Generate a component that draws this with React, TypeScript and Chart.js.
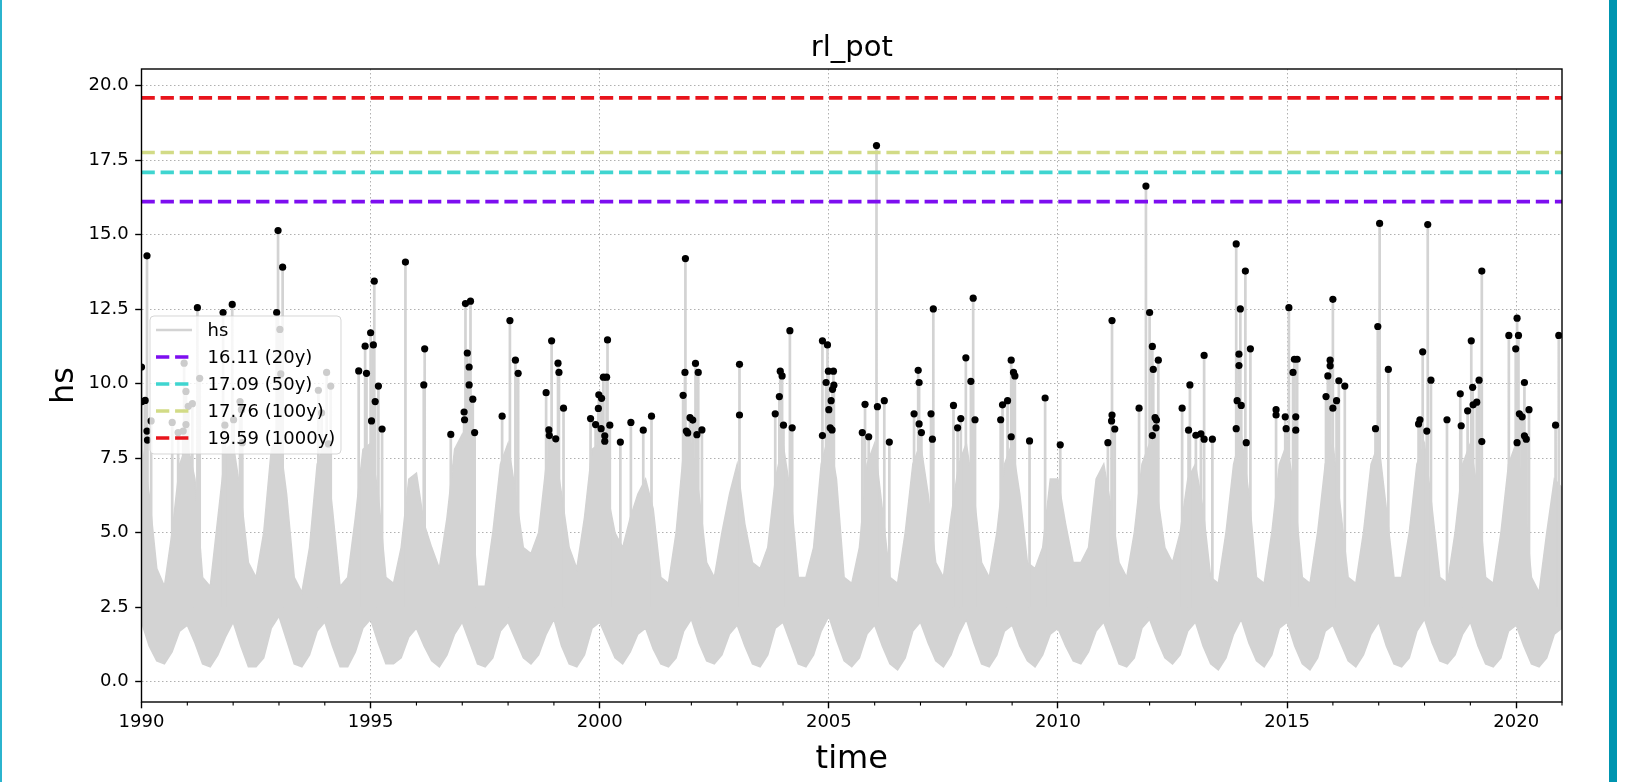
import { useEffect, useRef } from 'react';
import { Chart, registerables } from 'chart.js';

Chart.register(...registerables);

// ---------- axis / tick data ----------
const xMinYear = 1990;
const xMaxYear = 2021;
const yMinValue = -0.68;
const yMaxValue = 20.56;
const xTickYears = [1990, 1995, 2000, 2005, 2010, 2015, 2020];
const xMinorYears = [1991, 1992, 1993, 1994, 1996, 1997, 1998, 1999, 2001, 2002, 2003, 2004, 2006, 2007, 2008, 2009, 2011, 2012, 2013, 2014, 2016, 2017, 2018, 2019, 2021];
const yTickValues = [0, 2.5, 5, 7.5, 10, 12.5, 15, 17.5, 20];

// ---------- return levels ----------
const thresholdValues = [16.11, 17.09, 17.76, 19.59];
const thresholdLabels = ['16.11 (20y)', '17.09 (50y)', '17.76 (100y)', '19.59 (1000y)'];
const thresholdColors = ['#7d0ef0', '#3fd5d0', '#d2db86', '#e8141c'];

// ---------- hs series envelope (6 samples per year, 1990.0 .. 2021.0) ----------
const envStartYear = 1990;
const envSamplesPerYear = 6;
const hsUpper = [
  8.0, 6.3, 3.8, 3.2, 5.0, 7.3, // 1990
  8.0, 6.8, 3.5, 3.2, 5.5, 7.8, // 1991
  8.0, 6.3, 4.0, 3.5, 5.0, 7.8, // 1992
  8.3, 6.3, 3.5, 3.0, 4.5, 7.3, // 1993
  8.0, 5.8, 3.2, 3.5, 5.5, 7.8, // 1994
  8.0, 6.3, 3.5, 3.3, 4.5, 6.8, // 1995
  7.0, 5.3, 4.5, 3.8, 5.5, 7.8, // 1996
  8.3, 6.8, 3.2, 3.2, 5.0, 7.3, // 1997
  8.0, 6.3, 4.5, 4.3, 5.0, 7.3, // 1998
  8.0, 6.3, 4.5, 3.8, 5.5, 7.8, // 1999
  8.0, 6.3, 5.0, 4.5, 5.5, 6.3, // 2000
  6.8, 5.8, 3.5, 3.3, 5.0, 7.8, // 2001
  8.0, 6.3, 4.0, 3.5, 5.0, 6.3, // 2002
  7.3, 5.3, 4.0, 3.8, 4.5, 6.8, // 2003
  8.0, 6.3, 3.5, 3.5, 4.5, 7.3, // 2004
  8.3, 6.8, 3.5, 3.3, 4.5, 7.3, // 2005
  8.0, 5.8, 3.5, 3.3, 5.0, 7.3, // 2006
  8.0, 6.3, 4.0, 3.5, 5.5, 7.3, // 2007
  8.0, 6.3, 4.0, 3.5, 5.0, 7.3, // 2008
  8.0, 6.3, 4.0, 3.8, 4.5, 6.8, // 2009
  6.8, 5.3, 4.0, 4.0, 4.5, 6.8, // 2010
  7.3, 5.8, 4.0, 3.5, 5.0, 7.3, // 2011
  8.0, 6.3, 4.5, 4.0, 5.0, 6.8, // 2012
  7.3, 5.8, 3.5, 3.3, 5.0, 7.3, // 2013
  8.3, 6.3, 3.5, 3.3, 5.0, 7.3, // 2014
  8.0, 6.3, 3.5, 3.3, 5.0, 7.3, // 2015
  8.0, 5.8, 3.5, 3.3, 5.0, 7.3, // 2016
  8.0, 5.8, 3.5, 3.5, 5.0, 7.3, // 2017
  8.0, 5.8, 3.5, 3.3, 5.0, 7.3, // 2018
  8.0, 6.3, 3.5, 3.3, 5.0, 7.3, // 2019
  8.0, 6.3, 3.5, 3.0, 5.0, 6.8, // 2020
  6.5, // 2021.0
];
const hsLower = [
  2.0, 1.2, 0.7, 0.6, 1.0, 1.7, // 1990
  1.9, 1.3, 0.6, 0.5, 0.9, 1.5, // 1991
  2.0, 1.2, 0.5, 0.5, 0.8, 1.8, // 1992
  2.2, 1.4, 0.6, 0.5, 0.9, 1.7, // 1993
  2.0, 1.2, 0.5, 0.5, 1.0, 1.8, // 1994
  2.1, 1.3, 0.6, 0.6, 0.8, 1.5, // 1995
  1.8, 1.2, 0.7, 0.5, 0.9, 1.6, // 1996
  2.0, 1.3, 0.6, 0.5, 0.8, 1.7, // 1997
  2.0, 1.4, 0.8, 0.6, 0.9, 1.6, // 1998
  2.1, 1.2, 0.6, 0.5, 0.9, 1.8, // 1999
  2.0, 1.4, 0.8, 0.6, 1.0, 1.6, // 2000
  1.8, 1.1, 0.6, 0.5, 0.8, 1.7, // 2001
  2.1, 1.3, 0.7, 0.6, 0.9, 1.6, // 2002
  1.9, 1.2, 0.6, 0.5, 0.9, 1.8, // 2003
  2.0, 1.3, 0.6, 0.5, 0.9, 1.7, // 2004
  2.2, 1.4, 0.7, 0.5, 0.8, 1.6, // 2005
  1.9, 1.2, 0.6, 0.4, 0.8, 1.7, // 2006
  2.0, 1.3, 0.7, 0.5, 0.9, 1.6, // 2007
  2.1, 1.3, 0.6, 0.5, 0.9, 1.7, // 2008
  1.9, 1.2, 0.7, 0.5, 0.9, 1.6, // 2009
  1.8, 1.2, 0.7, 0.6, 1.0, 1.7, // 2010
  2.0, 1.3, 0.6, 0.5, 0.8, 1.8, // 2011
  2.1, 1.4, 0.8, 0.6, 0.9, 1.7, // 2012
  2.0, 1.2, 0.6, 0.4, 0.8, 1.6, // 2013
  2.1, 1.3, 0.7, 0.5, 0.9, 1.8, // 2014
  2.0, 1.2, 0.6, 0.4, 0.8, 1.7, // 2015
  1.9, 1.3, 0.7, 0.5, 0.9, 1.6, // 2016
  2.0, 1.2, 0.6, 0.5, 0.8, 1.7, // 2017
  2.1, 1.3, 0.7, 0.6, 0.9, 1.6, // 2018
  2.0, 1.2, 0.6, 0.5, 0.8, 1.7, // 2019
  1.9, 1.2, 0.6, 0.5, 0.8, 1.6, // 2020
  1.8, // 2021.0
];

// ---------- peaks over threshold (decimal year, hs) ----------
const peakTimes = [
  1990.00, 1990.01, 1990.08, 1990.12, 1990.12, 1990.13, 1990.21, 1990.67, 1990.80, 1990.91,
  1990.93, 1990.97, 1990.97, 1991.02, 1991.11, 1991.22, 1991.27, 1991.78, 1991.82, 1991.98,
  1992.01, 1992.15, 1992.18, 1992.20, 1992.95, 1992.98, 1993.02, 1993.04, 1993.08, 1993.86,
  1993.93, 1994.04, 1994.08, 1994.13, 1994.74, 1994.88, 1994.91, 1995.00, 1995.02, 1995.06,
  1995.08, 1995.10, 1995.17, 1995.25, 1995.76, 1996.16, 1996.18, 1996.75, 1997.04, 1997.05,
  1997.07, 1997.11, 1997.15, 1997.15, 1997.18, 1997.23, 1997.27, 1997.87, 1998.04, 1998.16,
  1998.22, 1998.83, 1998.89, 1998.90, 1998.95, 1999.04, 1999.09, 1999.11, 1999.21, 1999.80,
  1999.91, 1999.97, 1999.98, 2000.03, 2000.04, 2000.08, 2000.11, 2000.11, 2000.15, 2000.17,
  2000.22, 2000.45, 2000.68, 2000.95, 2001.13, 2001.82, 2001.86, 2001.87, 2001.89, 2001.92,
  2001.97, 2002.03, 2002.09, 2002.12, 2002.15, 2002.23, 2003.05, 2003.05, 2003.83, 2003.92,
  2003.94, 2003.98, 2004.01, 2004.15, 2004.20, 2004.86, 2004.86, 2004.94, 2004.97, 2004.99,
  2005.00, 2005.03, 2005.05, 2005.07, 2005.08, 2005.10, 2005.11, 2005.73, 2005.79, 2005.87,
  2006.04, 2006.06, 2006.21, 2006.32, 2006.86, 2006.95, 2006.97, 2006.97, 2007.02, 2007.23,
  2007.26, 2007.28, 2007.72, 2007.81, 2007.88, 2007.99, 2008.10, 2008.15, 2008.19, 2008.75,
  2008.79, 2008.90, 2008.98, 2008.98, 2009.03, 2009.06, 2009.38, 2009.72, 2010.05, 2011.09,
  2011.17, 2011.18, 2011.18, 2011.24, 2011.77, 2011.92, 2012.00, 2012.06, 2012.06, 2012.08,
  2012.12, 2012.14, 2012.15, 2012.19, 2012.71, 2012.85, 2012.88, 2013.01, 2013.12, 2013.19,
  2013.19, 2013.37, 2013.89, 2013.89, 2013.91, 2013.95, 2013.95, 2013.98, 2014.00, 2014.09,
  2014.11, 2014.20, 2014.76, 2014.76, 2014.96, 2014.98, 2015.04, 2015.13, 2015.16, 2015.19,
  2015.19, 2015.22, 2015.85, 2015.89, 2015.94, 2015.94, 2016.00, 2016.00, 2016.08, 2016.13,
  2016.26, 2016.93, 2016.98, 2017.02, 2017.21, 2017.87, 2017.90, 2017.96, 2018.05, 2018.07,
  2018.14, 2018.49, 2018.78, 2018.80, 2018.94, 2019.02, 2019.05, 2019.06, 2019.14, 2019.19,
  2019.25, 2019.25, 2019.84, 2019.99, 2020.02, 2020.02, 2020.05, 2020.07, 2020.13, 2020.18,
  2020.18, 2020.22, 2020.28, 2020.86, 2020.93,
];
const peakValues = [
  10.56, 9.40, 9.44, 14.29, 8.41, 8.11, 8.75, 8.70, 8.36, 8.41,
  10.69, 9.74, 8.63, 9.24, 9.33, 12.55, 10.18, 12.39, 8.61, 12.66,
  8.79, 9.40, 9.13, 8.02, 12.39, 15.14, 11.82, 10.33, 13.91, 9.78,
  9.02, 10.38, 7.98, 9.92, 10.43, 11.26, 10.35, 11.71, 8.75, 11.30,
  13.44, 9.40, 9.92, 8.48, 14.08, 9.96, 11.17, 8.30, 9.05, 8.79,
  12.69, 11.03, 10.56, 9.96, 12.77, 9.48, 8.36, 8.91, 12.12, 10.79,
  10.35, 9.70, 8.45, 8.26, 11.44, 8.15, 10.69, 10.38, 9.18, 8.83,
  8.63, 9.17, 9.63, 8.49, 9.51, 10.22, 8.25, 8.07, 10.22, 11.47,
  8.61, 8.04, 8.70, 8.44, 8.91, 9.61, 10.38, 14.20, 8.41, 8.35,
  8.86, 8.78, 10.68, 8.29, 10.38, 8.45, 10.65, 8.95, 8.99, 9.57,
  10.42, 10.26, 8.61, 11.78, 8.52, 11.44, 8.26, 10.04, 11.30, 10.42,
  9.13, 8.52, 9.43, 8.45, 9.81, 10.42, 9.95, 8.36, 9.31, 8.22,
  17.99, 9.23, 9.43, 8.04, 8.99, 10.45, 10.04, 8.65, 8.36, 8.99,
  8.14, 12.51, 9.27, 8.52, 8.83, 10.87, 10.08, 12.87, 8.79, 8.79,
  9.29, 9.43, 10.79, 8.22, 10.38, 10.26, 8.08, 9.52, 7.95, 8.02,
  8.75, 12.12, 8.95, 8.48, 9.18, 16.63, 12.39, 11.25, 8.26, 10.48,
  8.86, 8.52, 8.78, 10.79, 9.18, 8.44, 9.96, 8.27, 8.32, 10.95,
  8.14, 8.14, 14.69, 8.49, 9.43, 10.99, 10.61, 12.51, 9.27, 13.78,
  8.02, 11.17, 9.13, 8.95, 8.89, 8.49, 12.55, 10.38, 10.82, 8.89,
  8.44, 10.82, 9.57, 10.26, 10.79, 10.60, 12.83, 9.18, 9.43, 10.10,
  9.92, 8.49, 11.92, 15.38, 10.48, 8.65, 8.79, 11.07, 8.41, 15.34,
  10.12, 8.79, 9.66, 8.59, 9.09, 11.44, 9.88, 9.29, 9.38, 10.12,
  13.78, 8.06, 11.62, 11.17, 12.20, 8.02, 11.62, 8.99, 8.89, 10.04,
  8.25, 8.14, 9.13, 8.61, 11.62,
];

const hsColor = '#d3d3d3';
const stemBase = 2.5;
const FONT = '"DejaVu Sans", sans-serif';
const DASH = [13.3, 5.8];

const minorTicksAndFrame = {
  id: 'minorTicksAndFrame',
  afterDatasetsDraw(chart: any) {
    const { ctx, chartArea } = chart;
    const xs = chart.scales.x;
    ctx.save();
    ctx.strokeStyle = '#000';
    ctx.lineWidth = 1.1;
    ctx.setLineDash([]);
    for (const yr of xMinorYears) {
      const px = xs.getPixelForValue(yr);
      ctx.beginPath();
      ctx.moveTo(px, chartArea.bottom);
      ctx.lineTo(px, chartArea.bottom + 3.6);
      ctx.stroke();
    }
    ctx.lineWidth = 1.4;
    ctx.strokeRect(chartArea.left, chartArea.top, chartArea.right - chartArea.left, chartArea.bottom - chartArea.top);
    ctx.restore();
  },
};

const mplLegend = {
  id: 'mplLegend',
  afterDraw(chart: any) {
    const { ctx, chartArea } = chart;
    const items = [
      { label: 'hs', color: hsColor, dash: [] as number[], width: 2.7 },
      ...thresholdLabels.map((l, i) => ({ label: l, color: thresholdColors[i], dash: DASH, width: 3.6 })),
    ];
    const x0 = chartArea.left + 8.5;
    const y0 = 316;
    const w = 191;
    const h = 138;
    const r = 4;
    ctx.save();
    ctx.beginPath();
    ctx.moveTo(x0 + r, y0);
    ctx.lineTo(x0 + w - r, y0);
    ctx.quadraticCurveTo(x0 + w, y0, x0 + w, y0 + r);
    ctx.lineTo(x0 + w, y0 + h - r);
    ctx.quadraticCurveTo(x0 + w, y0 + h, x0 + w - r, y0 + h);
    ctx.lineTo(x0 + r, y0 + h);
    ctx.quadraticCurveTo(x0, y0 + h, x0, y0 + h - r);
    ctx.lineTo(x0, y0 + r);
    ctx.quadraticCurveTo(x0, y0, x0 + r, y0);
    ctx.closePath();
    ctx.fillStyle = 'rgba(255,255,255,0.8)';
    ctx.fill();
    ctx.strokeStyle = 'rgba(204,204,204,0.8)';
    ctx.lineWidth = 1;
    ctx.stroke();
    items.forEach((it, i) => {
      const y = y0 + 14 + i * 27;
      ctx.beginPath();
      ctx.setLineDash(it.dash);
      ctx.strokeStyle = it.color;
      ctx.lineWidth = it.width;
      ctx.moveTo(x0 + 6, y);
      ctx.lineTo(x0 + 42, y);
      ctx.stroke();
      ctx.setLineDash([]);
      ctx.fillStyle = '#000';
      ctx.font = '18px ' + FONT;
      ctx.textBaseline = 'middle';
      ctx.textAlign = 'left';
      ctx.fillText(it.label, x0 + 57.5, y + 1);
    });
    ctx.restore();
  },
};

export default function App() {
  const canvasRef = useRef<HTMLCanvasElement>(null);

  useEffect(() => {
    const canvas = canvasRef.current;
    if (!canvas) return;

    const envTimes = hsUpper.map((_, i) => envStartYear + i / envSamplesPerYear);
    const upperData = hsUpper.map((v, i) => ({ x: envTimes[i], y: v }));
    const lowerData = hsLower.map((v, i) => ({ x: envTimes[i], y: v }));
    const stemData: any[] = [];
    peakTimes.forEach((t, i) => {
      stemData.push({ x: t, y: stemBase }, { x: t, y: peakValues[i] }, { x: t, y: null });
    });
    const dotData = peakTimes.map((t, i) => ({ x: t, y: peakValues[i] }));

    const datasets: any[] = [
      {
        label: 'peaks',
        data: dotData,
        showLine: false,
        pointRadius: 3.6,
        pointBorderWidth: 0,
        pointBackgroundColor: '#000',
        borderColor: '#000',
        order: 0,
      },
      ...thresholdValues.map((v, i) => ({
        label: thresholdLabels[i],
        data: [{ x: xMinYear, y: v }, { x: xMaxYear, y: v }],
        borderColor: thresholdColors[i],
        borderWidth: 3.6,
        borderDash: DASH,
        pointRadius: 0,
        order: 1,
      })),
      {
        label: 'hs stems',
        data: stemData,
        borderColor: hsColor,
        borderWidth: 2.7,
        pointRadius: 0,
        spanGaps: false,
        order: 2,
      },
      {
        label: 'hs',
        data: upperData,
        borderColor: hsColor,
        backgroundColor: hsColor,
        borderWidth: 1.5,
        pointRadius: 0,
        tension: 0,
        fill: '+1',
        order: 3,
      },
      {
        label: 'hs low',
        data: lowerData,
        borderColor: hsColor,
        borderWidth: 1.5,
        pointRadius: 0,
        tension: 0,
        fill: false,
        order: 4,
      },
    ];

    const chart = new Chart(canvas, {
      type: 'line',
      data: { datasets },
      options: {
        animation: false,
        responsive: false,
        maintainAspectRatio: false,
        devicePixelRatio: 1,
        events: [],
        layout: { padding: { left: 0, right: 67, top: 0, bottom: 0 } },
        plugins: {
          legend: { display: false },
          tooltip: { enabled: false },
          title: {
            display: true,
            text: 'rl_pot',
            fullSize: false,
            color: '#000',
            font: { family: FONT, size: 29, weight: 'normal', lineHeight: 1.2 },
            padding: { top: 31, bottom: 3.2 },
          },
        },
        scales: {
          x: {
            type: 'linear',
            min: xMinYear,
            max: xMaxYear,
            afterBuildTicks: (s: any) => {
              s.ticks = xTickYears.map((v) => ({ value: v }));
            },
            afterFit: (s: any) => {
              s.height = 80;
            },
            ticks: {
              autoSkip: false,
              maxRotation: 0,
              padding: 3.5,
              color: '#000',
              font: { family: FONT, size: 18 },
              callback: (v: any) => String(v),
            },
            grid: {
              color: '#b0b0b0',
              lineWidth: 1,
              tickLength: 6.3,
              tickColor: '#000',
              tickWidth: 1.4,
              tickBorderDash: [],
            },
            border: { display: false, dash: [1.5, 2.5] },
            title: {
              display: true,
              text: 'time',
              color: '#000',
              font: { family: FONT, size: 32, lineHeight: 1.2 },
              padding: { top: 0, bottom: 3.3 },
            },
          },
          y: {
            type: 'linear',
            min: yMinValue,
            max: yMaxValue,
            afterBuildTicks: (s: any) => {
              s.ticks = yTickValues.map((v) => ({ value: v }));
            },
            afterFit: (s: any) => {
              s.width = 141.5;
            },
            ticks: {
              autoSkip: false,
              padding: 6.5,
              color: '#000',
              font: { family: FONT, size: 18 },
              callback: (v: any) => Number(v).toFixed(1),
            },
            grid: {
              color: '#b0b0b0',
              lineWidth: 1,
              tickLength: 6.3,
              tickColor: '#000',
              tickWidth: 1.4,
              tickBorderDash: [],
            },
            border: { display: false, dash: [1.5, 2.5] },
            title: {
              display: true,
              text: 'hs',
              color: '#000',
              font: { family: FONT, size: 32, lineHeight: 1.2 },
              padding: { top: 45.5, bottom: 0 },
            },
          },
        },
      } as any,
      plugins: [minorTicksAndFrame, mplLegend],
    });

    return () => chart.destroy();
  }, []);

  return (
    <div style={{ position: 'fixed', left: 0, top: 0, width: 1629, height: 782, background: '#fff', overflow: 'hidden' }}>
      <canvas ref={canvasRef} width={1629} height={782} style={{ position: 'absolute', left: 0, top: 0, width: 1629, height: 782 }} />
      <div style={{ position: 'absolute', left: 0, top: 0, width: 2, height: 782, background: '#2bb4ce' }} />
      <div style={{ position: 'absolute', left: 1609, top: 0, width: 8, height: 782, background: '#0095b0' }} />
    </div>
  );
}
